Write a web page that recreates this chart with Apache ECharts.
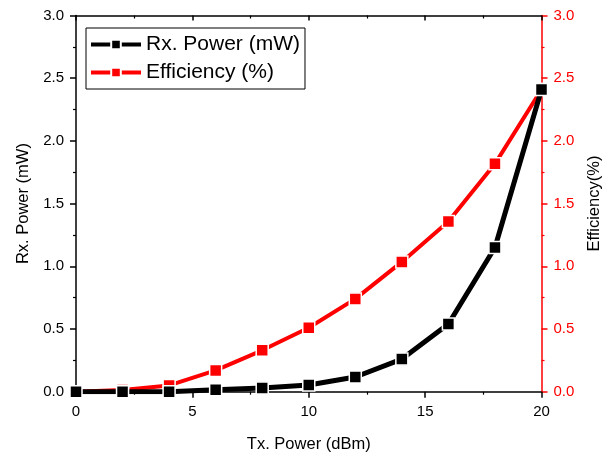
<!DOCTYPE html>
<html>
<head>
<meta charset="utf-8">
<script src="https://cdn.jsdelivr.net/npm/echarts@6/dist/echarts.min.js"></script>
<style>html,body{margin:0;padding:0;background:#fff}#c{width:610px;height:453px}</style>
</head>
<body>
<div id="c"></div>
<script>
var txPower = [0, 2, 4, 6, 8, 10, 12, 14, 16, 18, 20];
var rxPower = [0, 0, 0, 0.015, 0.03, 0.053, 0.117, 0.26, 0.54, 1.15, 2.41];
var efficiency = [0, 0.013, 0.05, 0.17, 0.33, 0.51, 0.74, 1.035, 1.357, 1.817, 2.41];
var seriesNames = ['Rx. Power (mW)', 'Efficiency (%)'];
var xName = 'Tx. Power (dBm)';
var yLeftName = 'Rx. Power (mW)';
var yRightName = 'Efficiency(%)';

function pairs(ys){ return txPower.map(function(x,i){ return [x, ys[i]]; }); }
var FONT = 'Liberation Sans, Arial, sans-serif';
var chart = echarts.init(document.getElementById('c'), null, {renderer:'canvas'});
function yAxisCfg(color, pos, name, gap){
  return {
    type:'value', position:pos, min:0, max:3, interval:0.5,
    name:name, nameLocation:'middle', nameGap:gap,
    nameTextStyle:{color:'#000', fontFamily:FONT, fontSize:16.5},
    axisLine:{show:true, onZero:false, lineStyle:{color:color, width:1.5}},
    axisTick:{show:true, inside:false, length:6, lineStyle:{color:color, width:1.5}},
    minorTick:{show:true, splitNumber:2, length:3, lineStyle:{color:color, width:1.2}},
    axisLabel:{color:color, fontFamily:FONT, fontSize:15, margin:12, formatter:function(v){return v.toFixed(1);}},
    splitLine:{show:false}
  };
}
chart.setOption({
  animation:false,
  backgroundColor:'#fff',
  grid:{left:76, right:68.5, top:15.5, bottom:61.3, containLabel:false, outerBoundsMode:'none'},
  legend:{
    left:86, top:28, orient:'vertical',
    data:seriesNames,
    itemWidth:50, itemHeight:12, itemGap:7,
    padding:[6,5,6,3],
    borderColor:'#000', borderWidth:1,
    lineStyle:{width:4},
    textStyle:{fontFamily:FONT, fontSize:21, color:'#000'}
  },
  xAxis:[{
    type:'value', min:0, max:20, interval:5, position:'bottom',
    name:xName, nameLocation:'middle', nameGap:44,
    nameTextStyle:{color:'#000', fontFamily:FONT, fontSize:16.5},
    axisLine:{show:true, onZero:false, lineStyle:{color:'#000', width:1.5}},
    axisTick:{show:true, inside:false, length:6, lineStyle:{color:'#000', width:1.5}},
    minorTick:{show:true, splitNumber:2, length:3, lineStyle:{color:'#000', width:1.2}},
    axisLabel:{color:'#000', fontFamily:FONT, fontSize:15, margin:13},
    splitLine:{show:false}
  },{
    type:'value', min:0, max:20, interval:5, position:'top',
    axisLine:{show:true, onZero:false, lineStyle:{color:'#000', width:1.5}},
    axisTick:{show:true, inside:true, length:5, lineStyle:{color:'#000', width:1.5}},
    minorTick:{show:true, splitNumber:2, length:3, lineStyle:{color:'#000', width:1.2}},
    axisLabel:{show:false},
    splitLine:{show:false}
  }],
  yAxis:[yAxisCfg('#000','left',yLeftName,44), yAxisCfg('#ff0000','right',yRightName,44)],
  series:[{
    name:seriesNames[0], type:'line', xAxisIndex:0, yAxisIndex:0,
    data:pairs(rxPower), symbol:'rect', symbolSize:12,
    lineStyle:{color:'#000', width:5},
    itemStyle:{color:'#000', borderColor:'#fff', borderWidth:1.5},
    z:3
  },{
    name:seriesNames[1], type:'line', xAxisIndex:0, yAxisIndex:1,
    data:pairs(efficiency), symbol:'rect', symbolSize:12,
    lineStyle:{color:'#ff0000', width:4},
    itemStyle:{color:'#ff0000', borderColor:'#fff', borderWidth:1.5},
    z:2
  }]
});
</script>
</body>
</html>
